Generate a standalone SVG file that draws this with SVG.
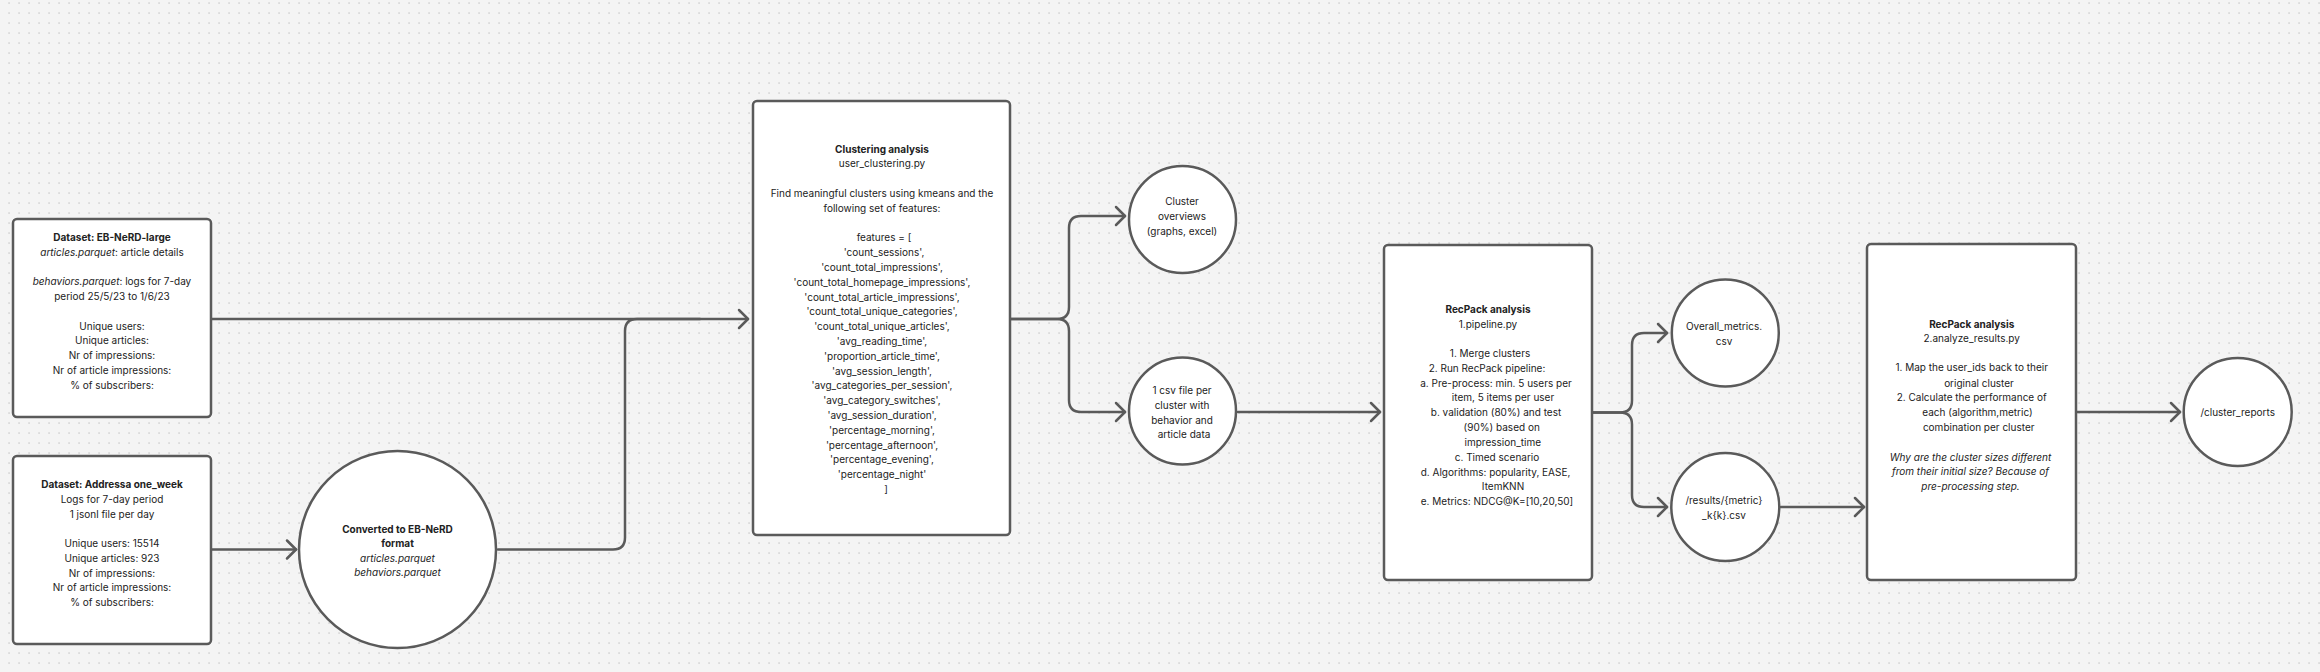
<svg xmlns="http://www.w3.org/2000/svg" width="2320" height="672" viewBox="0 0 2320 672">
<style>
.bg{fill:#f4f4f4}
.node{fill:#ffffff;stroke:#5a5a5a;stroke-width:2.5}
.conn{fill:none;stroke:#5a5a5a;stroke-width:2.5;stroke-linecap:round;stroke-linejoin:round}
text{font-family:Inter,"Liberation Sans",sans-serif;font-size:10px;fill:#222222;text-anchor:middle}
.b{font-weight:bold}
.i{font-style:italic}
</style>
<defs>
<pattern id="dots" x="0" y="0" width="10" height="10" patternUnits="userSpaceOnUse">
<rect x="8.4" y="2.4" width="1.3" height="1.3" fill="#c4c4c4"/>
</pattern>
<marker id="arr" viewBox="-12 -12 14 24" refX="0" refY="0" markerWidth="14" markerHeight="24" markerUnits="userSpaceOnUse" orient="auto" overflow="visible">
<path d="M-9,-9 L0,0 L-9,9" fill="none" stroke="#5a5a5a" stroke-width="2.5" stroke-linecap="round" stroke-linejoin="round"/>
</marker>
</defs>
<rect class="bg" x="0" y="0" width="2320" height="672"/>
<rect x="0" y="0" width="2320" height="672" fill="url(#dots)"/>

<g id="connectors">
<path class="conn" d="M212,319 H748" marker-end="url(#arr)"/>
<path class="conn" d="M212,549.5 H296" marker-end="url(#arr)"/>
<path class="conn" d="M498,549.5 H613 Q625,549.5 625,537.5 V331 Q625,319 637,319 H700"/>
<path class="conn" d="M1011,319 H1057 Q1069,319 1069,307 V228 Q1069,216 1081,216 H1125" marker-end="url(#arr)"/>
<path class="conn" d="M1011,319 H1057 Q1069,319 1069,331 V400 Q1069,412 1081,412 H1125" marker-end="url(#arr)"/>
<path class="conn" d="M1238,412 H1380" marker-end="url(#arr)"/>
<path class="conn" d="M1593,412.5 H1620 Q1632,412.5 1632,400.5 V345 Q1632,333 1644,333 H1667" marker-end="url(#arr)"/>
<path class="conn" d="M1593,412.5 H1620 Q1632,412.5 1632,424.5 V495 Q1632,507 1644,507 H1667" marker-end="url(#arr)"/>
<path class="conn" d="M1781,507 H1864" marker-end="url(#arr)"/>
<path class="conn" d="M2077,412 H2180" marker-end="url(#arr)"/>
</g>

<g id="dataset-ebnerd">
<rect class="node" x="13" y="219" width="198" height="198" rx="4"/>
<text x="112" y="240.9" class="b">Dataset: EB-NeRD-large</text>
<text x="112" y="255.7"><tspan class="i">articles.parquet</tspan>: article details</text>
<text x="112" y="285.2"><tspan class="i">behaviors.parquet</tspan>: logs for 7-day</text>
<text x="112" y="300">period 25/5/23 to 1/6/23</text>
<text x="112" y="329.6">Unique users:</text>
<text x="112" y="344.4">Unique articles:</text>
<text x="112" y="359.2">Nr of impressions:</text>
<text x="112" y="374">Nr of article impressions:</text>
<text x="112" y="388.8">% of subscribers:</text>
</g>

<g id="dataset-addressa">
<rect class="node" x="13" y="456" width="198" height="188" rx="4"/>
<text x="112" y="487.9" class="b">Dataset: Addressa one_week</text>
<text x="112" y="502.7">Logs for 7-day period</text>
<text x="112" y="517.5">1 jsonl file per day</text>
<text x="112" y="547">Unique users: 15514</text>
<text x="112" y="561.8">Unique articles: 923</text>
<text x="112" y="576.6">Nr of impressions:</text>
<text x="112" y="591.4">Nr of article impressions:</text>
<text x="112" y="606.2">% of subscribers:</text>
</g>

<g id="converted">
<circle class="node" cx="397.5" cy="549.5" r="98.5"/>
<text x="397.5" y="532.6" class="b">Converted to EB-NeRD</text>
<text x="397.5" y="547.2" class="b">format</text>
<text x="397.5" y="561.8" class="i">articles.parquet</text>
<text x="397.5" y="576.4" class="i">behaviors.parquet</text>
</g>

<g id="clustering">
<rect class="node" x="753" y="101" width="257" height="434" rx="4"/>
<text x="882" y="152.6" class="b">Clustering analysis</text>
<text x="882" y="167.4">user_clustering.py</text>
<text x="882" y="197">Find meaningful clusters using kmeans and the</text>
<text x="882" y="211.8">following set of features:</text>
<text x="884" y="241.4">features = [</text>
<text x="884" y="256.2">'count_sessions',</text>
<text x="882" y="271">'count_total_impressions',</text>
<text x="882" y="285.8">'count_total_homepage_impressions',</text>
<text x="882" y="300.6">'count_total_article_impressions',</text>
<text x="882" y="315.4">'count_total_unique_categories',</text>
<text x="882" y="330.2">'count_total_unique_articles',</text>
<text x="882" y="345">'avg_reading_time',</text>
<text x="882" y="359.8">'proportion_article_time',</text>
<text x="882" y="374.6">'avg_session_length',</text>
<text x="882" y="389.4">'avg_categories_per_session',</text>
<text x="882" y="404.2">'avg_category_switches',</text>
<text x="882" y="419">'avg_session_duration',</text>
<text x="882" y="433.8">'percentage_morning',</text>
<text x="882" y="448.6">'percentage_afternoon',</text>
<text x="882" y="463.4">'percentage_evening',</text>
<text x="882" y="478.2">'percentage_night'</text>
<text x="886" y="493">]</text>
</g>

<g id="cluster-overviews">
<circle class="node" cx="1182.5" cy="219.5" r="53.5"/>
<text x="1182" y="204.6">Cluster</text>
<text x="1182" y="219.6">overviews</text>
<text x="1182" y="234.6">(graphs, excel)</text>
</g>

<g id="csv-per-cluster">
<circle class="node" cx="1182.5" cy="411" r="53.5"/>
<text x="1182" y="394">1 csv file per</text>
<text x="1182" y="408.8">cluster with</text>
<text x="1182" y="423.6">behavior and</text>
<text x="1184" y="438.4">article data</text>
</g>

<g id="recpack-pipeline">
<rect class="node" x="1384" y="245" width="208" height="335" rx="4"/>
<text x="1488" y="312.6" class="b">RecPack analysis</text>
<text x="1488" y="327.9">1.pipeline.py</text>
<text x="1490" y="356.9">1. Merge clusters</text>
<text x="1487" y="371.6">2. Run RecPack pipeline:</text>
<text x="1496" y="386.9">a. Pre-process: min. 5 users per</text>
<text x="1503" y="401.3">item, 5 items per user</text>
<text x="1496" y="416.3">b. validation (80%) and test</text>
<text x="1501.7" y="430.9">(90%) based on</text>
<text x="1502.8" y="445.6">impression_time</text>
<text x="1497" y="460.6">c. Timed scenario</text>
<text x="1495.5" y="475.6">d. Algorithms: popularity, EASE,</text>
<text x="1503" y="490.3">ItemKNN</text>
<text x="1497" y="505.3">e. Metrics: NDCG@K=[10,20,50]</text>
</g>

<g id="overall-metrics">
<circle class="node" cx="1725.3" cy="333" r="53.5"/>
<text x="1724" y="330.3">Overall_metrics.</text>
<text x="1724" y="345.3">csv</text>
</g>

<g id="results-csv">
<circle class="node" cx="1725.3" cy="507" r="54"/>
<text x="1724" y="503.6">/results/{metric}</text>
<text x="1724" y="519.3">_k{k}.csv</text>
</g>

<g id="recpack-analyze">
<rect class="node" x="1867" y="244" width="209" height="336" rx="4"/>
<text x="1971.7" y="327.6" class="b">RecPack analysis</text>
<text x="1971.7" y="342.3">2.analyze_results.py</text>
<text x="1971.7" y="371.3">1. Map the user_ids back to their</text>
<text x="1979" y="386.6">original cluster</text>
<text x="1971.7" y="401.3">2. Calculate the performance of</text>
<text x="1977.5" y="416.3">each (algorithm,metric)</text>
<text x="1978.7" y="430.9">combination per cluster</text>
<text x="1970.5" y="460.6" class="i">Why are the cluster sizes different</text>
<text x="1970.5" y="475.3" class="i">from their initial size? Because of</text>
<text x="1970.5" y="490.3" class="i">pre-processing step.</text>
</g>

<g id="cluster-reports">
<circle class="node" cx="2237.7" cy="412" r="54"/>
<text x="2237.7" y="415.6">/cluster_reports</text>
</g>
</svg>
